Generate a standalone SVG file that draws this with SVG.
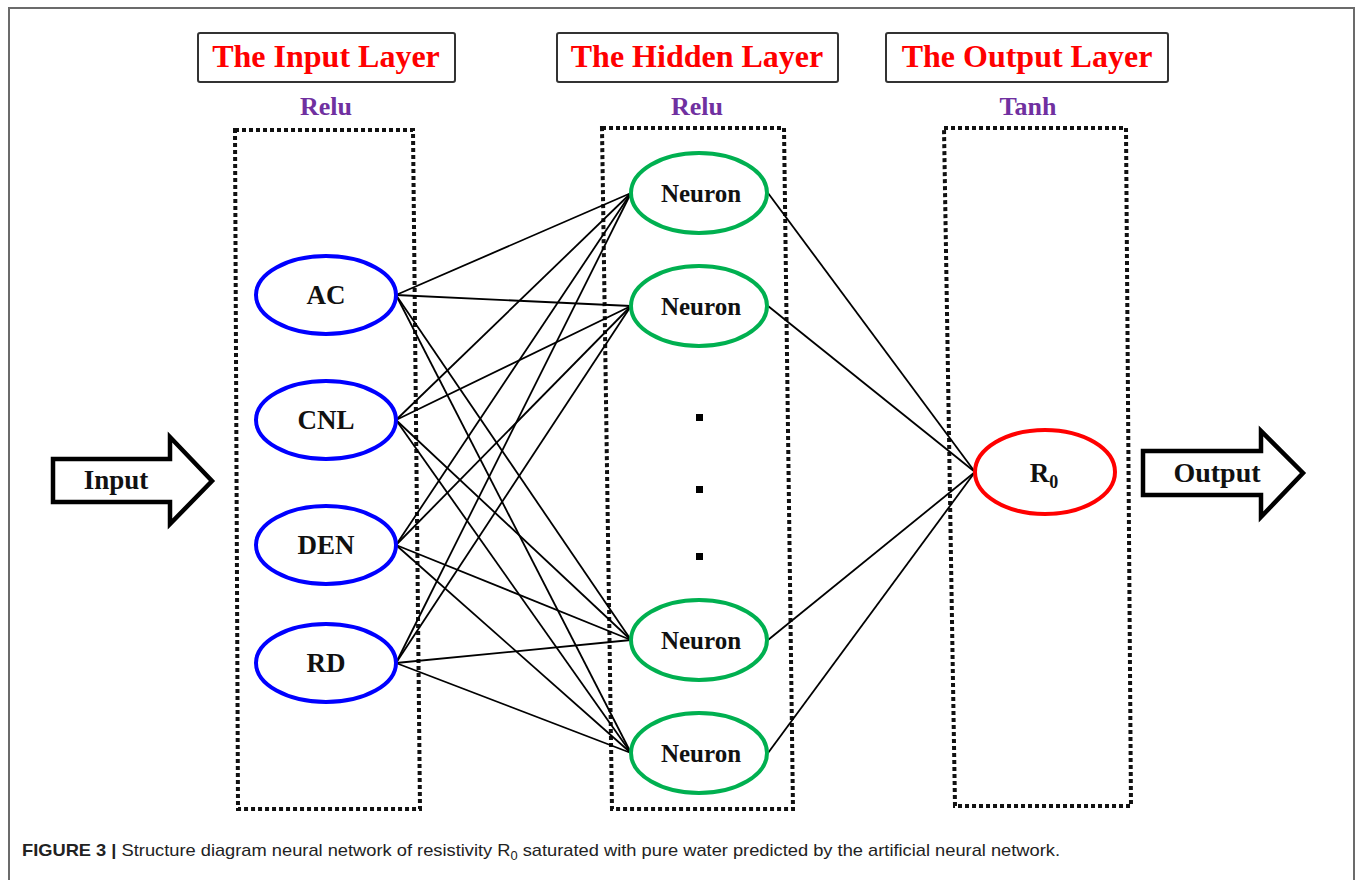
<svg xmlns="http://www.w3.org/2000/svg" width="1355" height="880" viewBox="0 0 1355 880">
<style>
.frame{fill:none;stroke:#6b6b6b;stroke-width:2}
.title{fill:#fff;stroke:#333;stroke-width:2}
.ttext{font-family:"Liberation Serif",serif;font-weight:bold;font-size:32px;fill:#ff0000;text-anchor:middle}
.act{font-family:"Liberation Serif",serif;font-weight:bold;font-size:26px;fill:#7030a0;text-anchor:middle}
.dotted{fill:none;stroke:#111;stroke-width:4;stroke-dasharray:4 3}
.in{fill:#fff;stroke:#0000ff;stroke-width:4}
.hid{fill:#fff;stroke:#00b050;stroke-width:4}
.out{fill:#fff;stroke:#ff0000;stroke-width:4}
.lbl{font-family:"Liberation Serif",serif;font-weight:bold;font-size:27px;fill:#111;text-anchor:middle}
.nlbl{font-family:"Liberation Serif",serif;font-weight:bold;font-size:25px;fill:#111;text-anchor:middle}
.arrow{fill:#fff;stroke:#000;stroke-width:4.5;stroke-linejoin:miter}
.conn line{stroke:#000;stroke-width:1.8}
.cap{font-family:"Liberation Sans",sans-serif;font-size:17px;fill:#222}
</style>
<rect x="0" y="0" width="1355" height="880" fill="#fff"/>
<path class="frame" d="M9 890 V8 H1354 V890"/>

<g id="title-input"><rect class="title" x="198" y="33" width="257" height="49" rx="2"/><text class="ttext" x="326" y="67">The Input Layer</text></g>
<g id="title-hidden"><rect class="title" x="557" y="33" width="281" height="49" rx="2"/><text class="ttext" x="697" y="67">The Hidden Layer</text></g>
<g id="title-output"><rect class="title" x="886" y="33" width="282" height="49" rx="2"/><text class="ttext" x="1027" y="67">The Output Layer</text></g>

<g id="act-input"><text class="act" x="326" y="115">Relu</text></g>
<g id="act-hidden"><text class="act" x="697" y="115">Relu</text></g>
<g id="act-output"><text class="act" x="1028" y="115">Tanh</text></g>

<g id="box-input"><path class="dotted" d="M235 130 L413 130 L420 809 L238 809 Z"/></g>
<g id="box-hidden"><path class="dotted" d="M602 128 L784 128 L793 809 L612 809 Z"/></g>
<g id="box-output"><path class="dotted" d="M944 128 L1126 128 L1131 806 L955 806 Z"/></g>

<g id="connectors" class="conn">
<line x1="396" y1="295" x2="631" y2="193"/><line x1="396" y1="295" x2="631" y2="306"/><line x1="396" y1="295" x2="631" y2="640"/><line x1="396" y1="295" x2="631" y2="753"/>
<line x1="396" y1="420" x2="631" y2="193"/><line x1="396" y1="420" x2="631" y2="306"/><line x1="396" y1="420" x2="631" y2="640"/><line x1="396" y1="420" x2="631" y2="753"/>
<line x1="396" y1="545" x2="631" y2="193"/><line x1="396" y1="545" x2="631" y2="306"/><line x1="396" y1="545" x2="631" y2="640"/><line x1="396" y1="545" x2="631" y2="753"/>
<line x1="396" y1="663" x2="631" y2="193"/><line x1="396" y1="663" x2="631" y2="306"/><line x1="396" y1="663" x2="631" y2="640"/><line x1="396" y1="663" x2="631" y2="753"/>
<line x1="768" y1="193" x2="975" y2="472"/><line x1="768" y1="306" x2="975" y2="472"/><line x1="768" y1="640" x2="975" y2="472"/><line x1="768" y1="753" x2="975" y2="472"/>
</g>

<g id="node-ac"><ellipse class="in" cx="326" cy="295" rx="70" ry="39"/><text class="lbl" x="326" y="304">AC</text></g>
<g id="node-cnl"><ellipse class="in" cx="326" cy="420" rx="70" ry="39"/><text class="lbl" x="326" y="429">CNL</text></g>
<g id="node-den"><ellipse class="in" cx="326" cy="545" rx="70" ry="39"/><text class="lbl" x="326" y="554">DEN</text></g>
<g id="node-rd"><ellipse class="in" cx="326" cy="663" rx="70" ry="39"/><text class="lbl" x="326" y="672">RD</text></g>

<g id="neuron-1"><ellipse class="hid" cx="699" cy="193" rx="68" ry="40"/><text class="nlbl" x="701" y="202">Neuron</text></g>
<g id="neuron-2"><ellipse class="hid" cx="699" cy="306" rx="68" ry="40"/><text class="nlbl" x="701" y="315">Neuron</text></g>
<g id="neuron-3"><ellipse class="hid" cx="699" cy="640" rx="68" ry="40"/><text class="nlbl" x="701" y="649">Neuron</text></g>
<g id="neuron-4"><ellipse class="hid" cx="699" cy="753" rx="68" ry="40"/><text class="nlbl" x="701" y="762">Neuron</text></g>

<g id="ellipsis-dots" fill="#000"><rect x="696" y="414" width="7" height="7"/><rect x="696" y="486" width="7" height="7"/><rect x="696" y="553" width="7" height="7"/></g>

<g id="node-r0"><ellipse class="out" cx="1045" cy="472" rx="70" ry="42"/><text class="lbl" x="1044" y="482">R<tspan font-size="18" dy="6">0</tspan></text></g>

<g id="arrow-input"><path class="arrow" d="M53 459 H170 V437 L212 481 L170 524 V502 H53 Z"/><text class="lbl" x="116" y="489">Input</text></g>
<g id="arrow-output"><path class="arrow" d="M1143 451 H1261 V431 L1303 473 L1261 517 V495 H1143 Z"/><text class="lbl" x="1217" y="482" style="font-size:28px">Output</text></g>

<g id="caption"><text class="cap" x="22" y="856" textLength="1038" lengthAdjust="spacingAndGlyphs"><tspan font-weight="bold">FIGURE 3 |</tspan> Structure diagram neural network of resistivity R<tspan font-size="12" dy="4">0</tspan><tspan dy="-4"> saturated with pure water predicted by the artificial neural network.</tspan></text></g>
</svg>
